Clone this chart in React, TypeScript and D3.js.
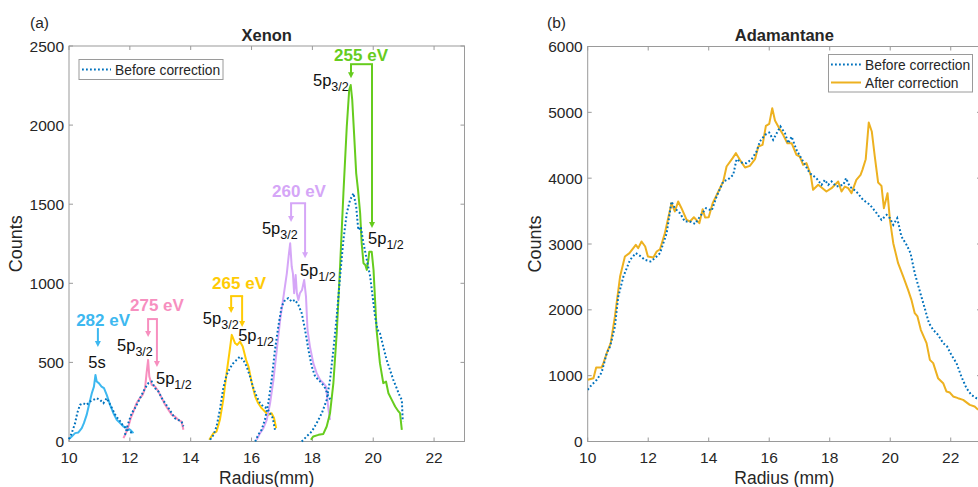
import React from "react";
import * as d3 from "d3";

// ---------- DATA ----------
type P = [number, number];

const xTicks = [10, 12, 14, 16, 18, 20, 22];
const leftYTicks = [0, 500, 1000, 1500, 2000, 2500];
const rightYTicks = [0, 1000, 2000, 3000, 4000, 5000, 6000];

// Xenon, after correction (solid)
const xe282After: P[] = [[10,15],[10.09,32],[10.2,53],[10.31,57],[10.42,84],[10.49,116],[10.58,168],[10.67,242],[10.75,305],[10.82,347],[10.87,421],[10.91,379],[10.98,369],[11.07,347],[11.15,337],[11.24,295],[11.35,232],[11.46,179],[11.57,137],[11.68,116],[11.79,95],[11.9,88],[12.01,74],[12.12,53]];
const xe275After: P[] = [[11.79,21],[11.87,53],[11.95,95],[12.03,147],[12.12,190],[12.22,242],[12.33,274],[12.42,295],[12.5,337],[12.55,432],[12.6,516],[12.64,411],[12.72,358],[12.83,347],[12.94,316],[13.05,274],[13.16,232],[13.27,200],[13.38,168],[13.48,158],[13.59,137],[13.7,126],[13.76,74]];
const xe265After: P[] = [[14.61,11],[14.75,53],[14.85,63],[14.96,137],[15.07,263],[15.18,432],[15.27,558],[15.35,674],[15.46,621],[15.53,611],[15.62,632],[15.71,600],[15.82,516],[15.9,474],[16.01,369],[16.12,284],[16.22,242],[16.33,211],[16.44,190],[16.55,168],[16.66,179],[16.74,147],[16.81,84]];
const xe260After: P[] = [[16.17,11],[16.28,53],[16.39,84],[16.5,137],[16.61,242],[16.72,390],[16.83,579],[16.94,769],[17.05,916],[17.16,1063],[17.23,1190],[17.27,1253],[17.32,1106],[17.36,1063],[17.4,937],[17.45,1053],[17.49,937],[17.54,895],[17.59,937],[17.66,958],[17.73,1021],[17.79,916],[17.84,705],[17.92,600],[18.03,495],[18.14,432],[18.25,390],[18.36,369],[18.45,347],[18.53,200],[18.58,137]];
const xe255After: P[] = [[17.95,11],[18.03,32],[18.2,42],[18.36,48],[18.47,95],[18.58,179],[18.69,369],[18.8,685],[18.91,1106],[19.02,1569],[19.13,1990],[19.21,2222],[19.26,2253],[19.31,2159],[19.37,1948],[19.44,1695],[19.5,1590],[19.57,1443],[19.62,1253],[19.68,1127],[19.74,1116],[19.79,1085],[19.84,1148],[19.87,1200],[19.95,1200],[20.01,1085],[20.06,895],[20.11,706],[20.22,495],[20.33,369],[20.42,379],[20.5,305],[20.61,263],[20.72,221],[20.83,190],[20.88,179],[20.94,74]];

// Xenon, before correction (dotted)
const xe282Before: P[] = [[10,15],[10.09,53],[10.2,116],[10.27,179],[10.36,232],[10.47,242],[10.58,232],[10.69,253],[10.8,263],[10.91,274],[11.02,263],[11.13,242],[11.24,274],[11.33,242],[11.44,200],[11.55,158],[11.65,137],[11.76,105],[11.87,84],[11.98,63],[12.09,53]];
const xe275Before: P[] = [[11.84,42],[11.95,116],[12.06,179],[12.17,211],[12.28,253],[12.39,295],[12.5,337],[12.61,369],[12.72,379],[12.83,337],[12.94,316],[13.05,274],[13.16,242],[13.27,211],[13.38,179],[13.48,147],[13.59,137],[13.7,126],[13.76,95]];
const xe265Before: P[] = [[14.64,11],[14.75,42],[14.85,95],[14.96,200],[15.07,337],[15.18,421],[15.29,463],[15.4,495],[15.51,516],[15.62,537],[15.73,516],[15.84,474],[15.95,411],[16.06,337],[16.17,284],[16.28,242],[16.39,221],[16.5,211],[16.61,179],[16.7,147],[16.77,74]];
const xe260Before: P[] = [[16.12,0],[16.22,42],[16.33,74],[16.44,137],[16.55,242],[16.66,390],[16.77,579],[16.88,727],[16.99,853],[17.1,895],[17.21,906],[17.32,884],[17.43,895],[17.54,863],[17.65,811],[17.76,705],[17.87,579],[17.98,474],[18.09,411],[18.2,390],[18.31,369],[18.42,337],[18.53,284],[18.6,263]];
const xe255Before: P[] = [[17.65,0],[17.81,32],[17.98,63],[18.14,116],[18.31,179],[18.47,263],[18.58,390],[18.69,579],[18.8,790],[18.91,1042],[19.02,1274],[19.13,1443],[19.24,1527],[19.35,1569],[19.44,1485],[19.51,1337],[19.59,1358],[19.68,1253],[19.79,1148],[19.9,1042],[19.98,916],[20.06,790],[20.14,706],[20.22,685],[20.33,600],[20.44,516],[20.55,453],[20.66,390],[20.77,337],[20.88,284],[20.94,263],[20.97,126]];

// Adamantane
const adaAfter: P[] = [[10,937],[10.19,962],[10.28,1124],[10.46,1124],[10.52,1190],[10.63,1342],[10.76,1494],[10.9,1899],[11.07,2506],[11.23,2810],[11.38,2861],[11.59,2987],[11.67,2937],[11.78,3038],[11.9,2962],[11.99,2810],[12.17,2795],[12.28,2886],[12.39,2921],[12.55,3164],[12.77,3620],[12.88,3494],[12.99,3645],[13.1,3544],[13.27,3367],[13.38,3342],[13.51,3407],[13.69,3316],[13.8,3529],[13.88,3402],[14.0,3407],[14.13,3620],[14.32,3797],[14.48,3949],[14.59,4177],[14.79,4304],[14.9,4380],[15.03,4278],[15.2,4162],[15.36,4187],[15.53,4288],[15.64,4481],[15.78,4506],[15.89,4795],[16.0,4825],[16.1,5063],[16.19,4876],[16.33,4759],[16.46,4658],[16.6,4531],[16.74,4531],[16.9,4354],[17.01,4329],[17.12,4202],[17.23,4228],[17.37,4050],[17.45,3823],[17.62,3899],[17.89,3797],[18.06,3848],[18.28,3949],[18.39,3797],[18.5,3873],[18.61,3848],[18.72,3772],[18.88,3974],[19.02,4050],[19.08,4126],[19.19,4288],[19.29,4845],[19.39,4709],[19.49,4329],[19.6,3934],[19.71,3883],[19.79,3544],[19.91,3772],[19.99,3367],[20.1,3013],[20.26,2709],[20.43,2506],[20.59,2304],[20.7,2152],[20.81,1949],[20.9,1899],[21.01,1696],[21.2,1494],[21.31,1240],[21.42,1190],[21.58,962],[21.75,886],[21.86,759],[21.97,744],[22.08,684],[22.24,658],[22.41,633],[22.63,557],[22.79,532],[22.89,491],[23.05,470]];
const adaBefore: P[] = [[10,785],[10.13,861],[10.3,937],[10.46,1048],[10.63,1342],[10.74,1443],[10.9,1747],[11.01,2202],[11.18,2506],[11.4,2759],[11.59,2861],[11.73,2820],[11.89,2759],[12.08,2734],[12.22,2785],[12.39,2861],[12.61,3164],[12.77,3645],[12.88,3544],[13.05,3468],[13.21,3342],[13.38,3342],[13.55,3306],[13.71,3417],[13.91,3544],[14.1,3509],[14.26,3721],[14.48,3949],[14.65,3985],[14.81,4050],[14.92,4288],[15.09,4238],[15.25,4228],[15.42,4288],[15.58,4405],[15.69,4557],[15.86,4658],[16.0,4693],[16.13,4582],[16.26,4693],[16.37,4785],[16.52,4683],[16.63,4531],[16.74,4632],[16.9,4430],[17.12,4253],[17.34,4076],[17.56,4000],[17.73,3899],[17.84,3974],[17.95,3899],[18.06,3949],[18.22,3873],[18.45,3899],[18.54,4000],[18.66,3873],[18.88,3797],[19.1,3671],[19.33,3595],[19.55,3468],[19.71,3367],[19.88,3443],[19.99,3392],[20.1,3291],[20.23,3392],[20.37,3114],[20.54,2987],[20.67,2861],[20.81,2557],[20.98,2278],[21.14,2025],[21.28,1797],[21.42,1696],[21.58,1620],[21.75,1494],[21.88,1443],[22.02,1316],[22.19,1190],[22.35,987],[22.52,810],[22.68,709],[22.85,658],[23.05,640]];

// Peak annotations (data units): energy label, bracket arrows, state labels
type Ann = {
  energy: string; color: string; lx: number; ly: number;
  top: number; ax1: number; ab1: number; ax2?: number; ab2?: number;
  s1: string; s1sub?: string; s1x: number; s1y: number;
  s2?: string; s2sub?: string; s2x?: number; s2y?: number;
};
const annotations: Ann[] = [
  { energy: "282 eV", color: "#3DB8F0", lx: 11.12, ly: 768, top: 717, ax1: 10.95, ab1: 597, s1: "5s", s1x: 10.92, s1y: 500 },
  { energy: "275 eV", color: "#F78FBF", lx: 12.89, ly: 862, top: 774, ax1: 12.6, ab1: 660, ax2: 12.89, ab2: 471, s1: "5p", s1sub: "3/2", s1x: 11.58, s1y: 610, s2: "5p", s2sub: "1/2", s2x: 12.86, s2y: 401 },
  { energy: "265 eV", color: "#FFCB05", lx: 15.59, ly: 1001, top: 919, ax1: 15.33, ab1: 812, ax2: 15.69, ab2: 723, s1: "5p", s1sub: "3/2", s1x: 14.4, s1y: 780, s2: "5p", s2sub: "1/2", s2x: 15.56, s2y: 673 },
  { energy: "260 eV", color: "#D5A6F7", lx: 17.56, ly: 1582, top: 1506, ax1: 17.3, ab1: 1387, ax2: 17.76, ab2: 1159, s1: "5p", s1sub: "3/2", s1x: 16.34, s1y: 1349, s2: "5p", s2sub: "1/2", s2x: 17.59, s2y: 1083 },
  { energy: "255 eV", color: "#66CC1E", lx: 19.6, ly: 2441, top: 2385, ax1: 19.27, ab1: 2296, ax2: 19.96, ab2: 1349, s1: "5p", s1sub: "3/2", s1x: 18.02, s1y: 2283, s2: "5p", s2sub: "1/2", s2x: 19.83, s2y: 1286 },
];
const afterSeries: P[][] = [xe282After, xe275After, xe265After, xe260After, xe255After];
const beforeSeries: P[][] = [xe282Before, xe275Before, xe265Before, xe260Before, xe255Before];

// ---------- STYLE ----------
const FONT = "'Liberation Sans', Arial, Helvetica, sans-serif";
const TXT = "#262626";
const BOX = "#9a9a9a";
const BLUE = "#0072BD";
const ORANGE = "#EDB120";
const DOT = "1.8,2.2";

function Axes({ x, y, xTicksV, yTicksV, title, tag, xlabel, tagX }: any) {
  const [x0, x1] = x.range();
  const [y0, y1] = y.range();
  return (
    <g fontFamily={FONT} fill={TXT}>
      <rect x={x0} y={y1} width={x1 - x0} height={y0 - y1} fill="none" stroke={BOX} strokeWidth={1} />
      {xTicksV.map((t: number) => (
        <g key={"x" + t}>
          <line x1={x(t)} x2={x(t)} y1={y0} y2={y0 - 4} stroke={BOX} />
          <line x1={x(t)} x2={x(t)} y1={y1} y2={y1 + 4} stroke={BOX} />
          <text x={x(t)} y={y0 + 21} textAnchor="middle" fontSize={15.5}>{t}</text>
        </g>
      ))}
      {yTicksV.map((t: number) => (
        <g key={"y" + t}>
          <line x1={x0} x2={x0 + 4} y1={y(t)} y2={y(t)} stroke={BOX} />
          <line x1={x1} x2={x1 - 4} y1={y(t)} y2={y(t)} stroke={BOX} />
          <text x={x0 - 5} y={y(t) + 5.5} textAnchor="end" fontSize={15.5}>{t}</text>
        </g>
      ))}
      <text x={(x0 + x1) / 2} y={41} textAnchor="middle" fontSize={16.5} fontWeight="bold">{title}</text>
      <text x={tagX} y={28} fontSize={15.5}>{tag}</text>
      <text x={(x0 + x1) / 2} y={484} textAnchor="middle" fontSize={17.5}>{xlabel}</text>
      <text transform={`translate(${x0 - 47},${(y0 + y1) / 2}) rotate(-90)`} textAnchor="middle" fontSize={18}>Counts</text>
    </g>
  );
}

function StateLabel({ x, y, main, sub }: any) {
  return (
    <text x={x} y={y + 6} fontSize={16.5} fontFamily={FONT} fill="#111">
      {main}
      {sub && <tspan fontSize={12.5} dy={5}>{sub}</tspan>}
    </text>
  );
}

export default function App() {
  const xL = d3.scaleLinear().domain([10, 23]).range([69, 464.5]);
  const yL = d3.scaleLinear().domain([0, 2500]).range([441.5, 46]);
  const xR = d3.scaleLinear().domain([10, 23]).range([587.7, 981]);
  const yR = d3.scaleLinear().domain([0, 6000]).range([441.5, 46.5]);

  const lineL = d3.line<P>().x(d => xL(d[0])).y(d => yL(d[1]));
  const lineR = d3.line<P>().x(d => xR(d[0])).y(d => yR(d[1]));

  return (
    <svg width={978} height={487} style={{ position: "absolute", left: 0, top: 0, background: "#fff" }}>
      <defs>
        <clipPath id="clipR"><rect x={587.7} y={46.5} width={393.3} height={395} /></clipPath>
      </defs>
      <rect width={978} height={487} fill="#fff" />

      {/* ---- Panel (a) ---- */}
      <Axes x={xL} y={yL} xTicksV={xTicks} yTicksV={leftYTicks} title="Xenon" tag="(a)" xlabel="Radius(mm)" tagX={30} />
      {afterSeries.map((s, i) => (
        <path key={"a" + i} d={lineL(s) || ""} fill="none" stroke={annotations[i].color} strokeWidth={2} strokeLinejoin="round" />
      ))}
      {beforeSeries.map((s, i) => (
        <path key={"b" + i} d={lineL(s) || ""} fill="none" stroke={BLUE} strokeWidth={2} strokeDasharray={DOT} />
      ))}
      {annotations.map((a, i) => {
        const c = a.color;
        const arrow = (ax: number, ab: number) => {
          const px = xL(ax), pb = yL(ab);
          return (
            <g>
              <line x1={px} x2={px} y1={yL(a.top)} y2={pb - 3} stroke={c} strokeWidth={2} />
              <path d={`M${px - 3},${pb - 6} L${px + 3},${pb - 6} L${px},${pb} Z`} fill={c} />
            </g>
          );
        };
        return (
          <g key={"ann" + i}>
            <text x={xL(a.lx)} y={yL(a.ly) + 6} textAnchor="middle" fontSize={17} fontWeight="bold" fill={c} fontFamily={FONT}>{a.energy}</text>
            {a.ax2 !== undefined && (
              <line x1={xL(a.ax1) - 1} x2={xL(a.ax2) + 1} y1={yL(a.top)} y2={yL(a.top)} stroke={c} strokeWidth={2} />
            )}
            {arrow(a.ax1, a.ab1)}
            {a.ax2 !== undefined && arrow(a.ax2, a.ab2!)}
            {a.s1sub ? (
              <StateLabel x={xL(a.s1x)} y={yL(a.s1y)} main={a.s1} sub={a.s1sub} />
            ) : (
              <text x={xL(a.s1x)} y={yL(a.s1y) + 6} textAnchor="middle" fontSize={16.5} fontFamily={FONT} fill="#111">{a.s1}</text>
            )}
            {a.s2 && <StateLabel x={xL(a.s2x!)} y={yL(a.s2y!)} main={a.s2} sub={a.s2sub} />}
          </g>
        );
      })}
      {/* legend (a) */}
      <g fontFamily={FONT}>
        <rect x={79} y={59.5} width={144} height={20} fill="#fff" stroke={BOX} />
        <line x1={82} x2={111} y1={69.5} y2={69.5} stroke={BLUE} strokeWidth={2} strokeDasharray={DOT} />
        <text x={115} y={74.5} fontSize={13.8} fill={TXT}>Before correction</text>
      </g>

      {/* ---- Panel (b) ---- */}
      <Axes x={xR} y={yR} xTicksV={xTicks} yTicksV={rightYTicks} title="Adamantane" tag="(b)" xlabel="Radius (mm)" tagX={547} />
      <g clipPath="url(#clipR)">
        <path d={lineR(adaAfter) || ""} fill="none" stroke={ORANGE} strokeWidth={2} strokeLinejoin="round" />
        <path d={lineR(adaBefore) || ""} fill="none" stroke={BLUE} strokeWidth={2} strokeDasharray={DOT} />
      </g>
      <g fontFamily={FONT}>
        <rect x={828.5} y={54.5} width={144} height={37.5} fill="#fff" stroke={BOX} />
        <line x1={831} x2={861} y1={64.5} y2={64.5} stroke={BLUE} strokeWidth={2} strokeDasharray={DOT} />
        <text x={865} y={69.5} fontSize={13.8} fill={TXT}>Before correction</text>
        <line x1={831} x2={861} y1={82.5} y2={82.5} stroke={ORANGE} strokeWidth={2} />
        <text x={865} y={87.5} fontSize={13.8} fill={TXT}>After correction</text>
      </g>
    </svg>
  );
}
